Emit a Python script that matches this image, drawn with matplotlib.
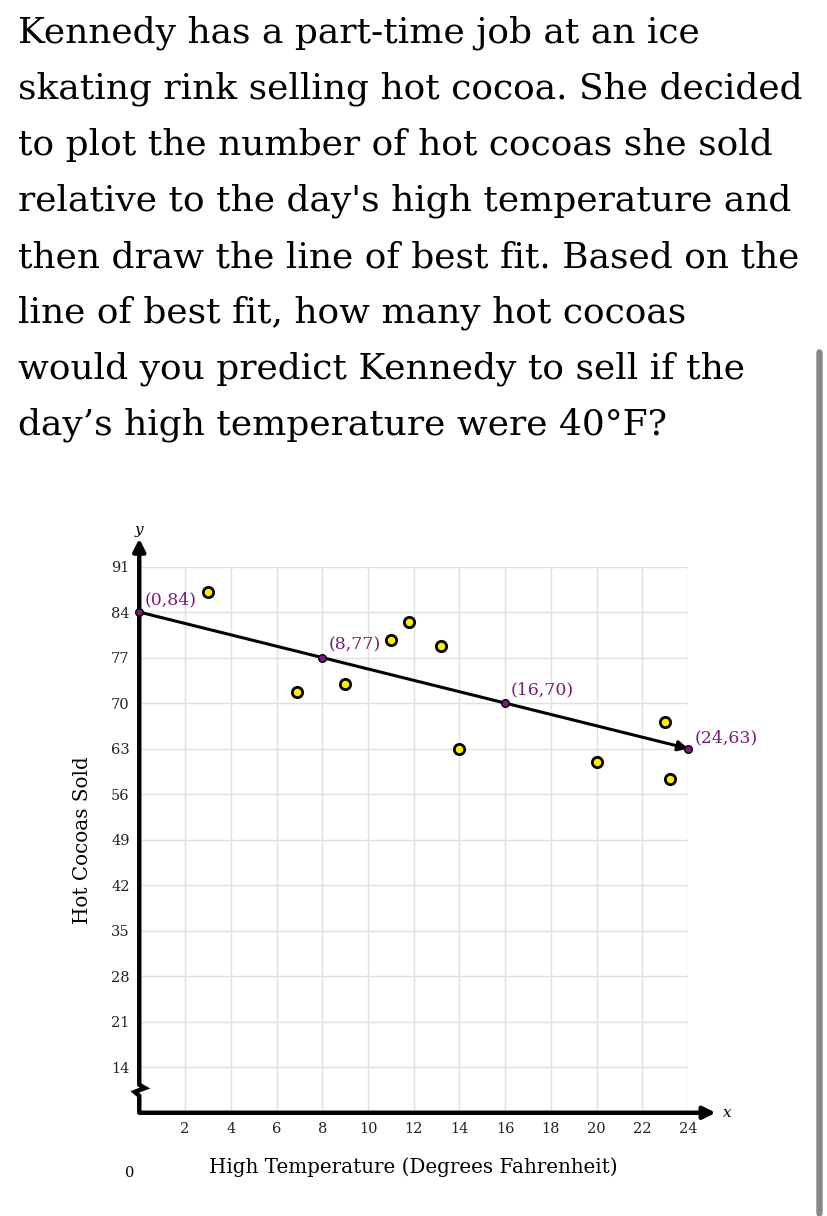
import matplotlib.pyplot as plt
from matplotlib.patches import FancyBboxPatch

# question text, one entry per rendered line
question_lines = [
    "Kennedy has a part-time job at an ice",
    "skating rink selling hot cocoa. She decided",
    "to plot the number of hot cocoas she sold",
    "relative to the day's high temperature and",
    "then draw the line of best fit. Based on the",
    "line of best fit, how many hot cocoas",
    "would you predict Kennedy to sell if the",
    "day\u2019s high temperature were 40\u00b0F?",
]

# scatter data
temps = [3, 6.9, 9, 11, 11.8, 13.2, 14, 20, 23, 23.2]
cocoas = [87.1, 71.7, 73, 79.7, 82.5, 78.8, 63, 60.9, 67.1, 58.3]

# line of best fit and its labelled points
fit_x = [0, 8, 16, 24]
fit_y = [84, 77, 70, 63]
fit_labels = ["(0,84)", "(8,77)", "(16,70)", "(24,63)"]

x_ticks = [2, 4, 6, 8, 10, 12, 14, 16, 18, 20, 22, 24]
y_ticks = [14, 21, 28, 35, 42, 49, 56, 63, 70, 77, 84, 91]

serif = "DejaVu Serif"
purple = "#7a1a7a"
W, H = 828, 1216

fig = plt.figure(figsize=(W / 100, H / 100), dpi=100)
fig.patch.set_facecolor("white")

# question text
for i, line in enumerate(question_lines):
    fig.text(18 / W, 1 - (43 + 56 * i) / H, line, fontsize=25.9, family=serif,
             ha="left", va="baseline", color="black")

# scrollbar of the screenshot
fig.patches.append(FancyBboxPatch((817 / W, 0), 5 / W, 1 - 350 / H,
                                  boxstyle="round,pad=0,rounding_size=0.003",
                                  transform=fig.transFigure, color="#888888", zorder=0))

ax = fig.add_axes([0.1682, 0.0849, 0.663, 0.4492])
ax.set_xlim(0, 24)
ax.set_ylim(7, 91)
for s in ax.spines.values():
    s.set_visible(False)

ax.set_xticks(x_ticks)
ax.set_yticks(y_ticks)
ax.grid(True, color="#e0e0e0", lw=1)
ax.set_axisbelow(True)
ax.tick_params(length=0, labelsize=10.5, colors="#222222", pad=7)
for lab in ax.get_xticklabels() + ax.get_yticklabels():
    lab.set_family(serif)

# y axis with break
ax.plot([0, 0, -0.2, 0.25, 0], [7, 9.6, 10.2, 10.8, 11.3], color="black", lw=3.2,
        clip_on=False, solid_capstyle="butt", solid_joinstyle="miter", zorder=4)
ax.annotate("", xy=(0, 95.3), xytext=(0, 11.3), annotation_clip=False,
            arrowprops=dict(arrowstyle="-|>", lw=3.2, color="black", mutation_scale=18,
                            shrinkA=0, shrinkB=0), zorder=4)
ax.annotate("", xy=(25.2, 7), xytext=(0, 7), annotation_clip=False,
            arrowprops=dict(arrowstyle="-|>", lw=3.2, color="black", mutation_scale=18,
                            shrinkA=0, shrinkB=0), zorder=4)
ax.text(0, 96.6, "y", fontsize=11, family=serif, style="italic", ha="center", va="center")
ax.text(25.5, 7, "x", fontsize=11, family=serif, style="italic", ha="left", va="center")

# line of best fit
ax.annotate("", xy=(fit_x[-1], fit_y[-1]), xytext=(fit_x[0], fit_y[0]), annotation_clip=False,
            arrowprops=dict(arrowstyle="-|>", lw=2.2, color="black", mutation_scale=15,
                            shrinkA=0, shrinkB=0), zorder=5)

ax.scatter(temps, cocoas, s=55, facecolor="#ffee00", edgecolor="black", linewidth=2,
           zorder=6, clip_on=False)
ax.scatter(fit_x, fit_y, s=30, facecolor=purple, edgecolor="black", linewidth=1,
           zorder=7, clip_on=False)

label_offsets = [(0.25, 1.9), (0.3, 2.0), (0.25, 2.0), (0.3, 1.6)]
for x, y, t, (dx, dy) in zip(fit_x, fit_y, fit_labels, label_offsets):
    ax.text(x + dx, y + dy, t, fontsize=12.5, family=serif, color=purple,
            ha="left", va="center", zorder=8)

fig.text(82.5 / W, 1 - 840 / H, "Hot Cocoas Sold", rotation=90, fontsize=14.3,
         family=serif, ha="center", va="center")
fig.text(413 / W, 1 - 1167 / H, "High Temperature (Degrees Fahrenheit)", fontsize=14.3,
         family=serif, ha="center", va="center")
fig.text(130 / W, 1 - 1173 / H, "0", fontsize=10.5, family=serif, ha="center", va="center")

fig.savefig("out.png", dpi=100)
